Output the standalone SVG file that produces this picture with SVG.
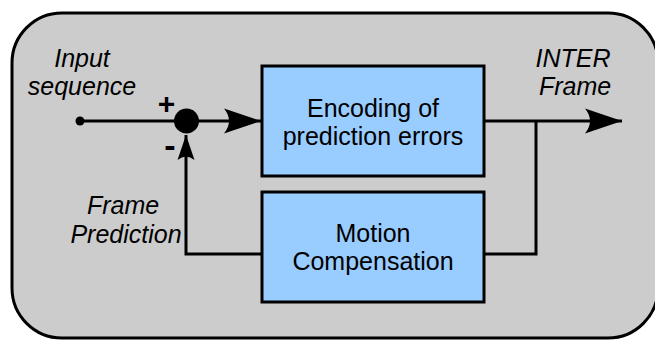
<svg xmlns="http://www.w3.org/2000/svg" width="655" height="343" viewBox="0 0 655 343">
  <style>
    .frame { fill: #cccccc; stroke: #000; stroke-width: 3; }
    .block { fill: #99ccff; stroke: #000; stroke-width: 3; }
    .wire { fill: none; stroke: #000; stroke-width: 3; }
    .lbl { font-family: "Liberation Sans", Arial, sans-serif; font-size: 25px; fill: #000; text-anchor: middle; }
    .ital { font-style: italic; }
    .sign { font-family: "Liberation Sans", Arial, sans-serif; font-weight: bold; fill: #000; text-anchor: middle; }
  </style>
  <defs>
    <marker id="arrowBig" viewBox="-38 -14 39 28" refX="0" refY="0" markerWidth="39" markerHeight="28" markerUnits="userSpaceOnUse" orient="auto">
      <path d="M0,0 L-37,-12.5 Q-27,0 -37,12.5 Z" fill="#000"/>
    </marker>
    <marker id="arrowSmall" viewBox="-26 -10 27 20" refX="0" refY="0" markerWidth="27" markerHeight="20" markerUnits="userSpaceOnUse" orient="auto">
      <path d="M0,0 L-25,-8.5 Q-18,0 -25,8.5 Z" fill="#000"/>
    </marker>
  </defs>

  <!-- outer panel -->
  <rect class="frame" x="12" y="13" width="646" height="325" rx="50" ry="50"/>

  <!-- connectors -->
  <g id="connectors">
    <path class="wire" d="M80,121 L186,121"/>
    <path class="wire" d="M186,121 L261,121" marker-end="url(#arrowBig)"/>
    <path class="wire" d="M484,121 L622,121" marker-end="url(#arrowBig)"/>
    <path class="wire" d="M536,121 L536,254 L484,254"/>
    <path class="wire" d="M262,254 L186,254 L186,135" marker-end="url(#arrowSmall)"/>
    <circle cx="80" cy="121" r="4.5" fill="#000"/>
  </g>

  <!-- summing junction -->
  <g id="sum">
    <circle cx="186.5" cy="121" r="12.5" fill="#000"/>
    <text class="sign" x="166.5" y="114" font-size="30">+</text>
    <text class="sign" x="170" y="157" font-size="34">-</text>
  </g>

  <g id="encoder">
    <rect class="block" x="262" y="66" width="222" height="110"/>
    <text class="lbl" x="373" y="117">Encoding of</text>
    <text class="lbl" x="373" y="145">prediction errors</text>
  </g>

  <g id="motion">
    <rect class="block" x="262" y="192" width="222" height="110"/>
    <text class="lbl" x="373" y="242">Motion</text>
    <text class="lbl" x="373" y="270">Compensation</text>
  </g>

  <g id="input-label">
    <text class="lbl ital" x="82" y="67">Input</text>
    <text class="lbl ital" x="82" y="95">sequence</text>
  </g>

  <g id="output-label">
    <text class="lbl ital" x="573" y="67">INTER</text>
    <text class="lbl ital" x="575" y="95">Frame</text>
  </g>

  <g id="prediction-label">
    <text class="lbl ital" x="123" y="214">Frame</text>
    <text class="lbl ital" x="126" y="243">Prediction</text>
  </g>
</svg>
